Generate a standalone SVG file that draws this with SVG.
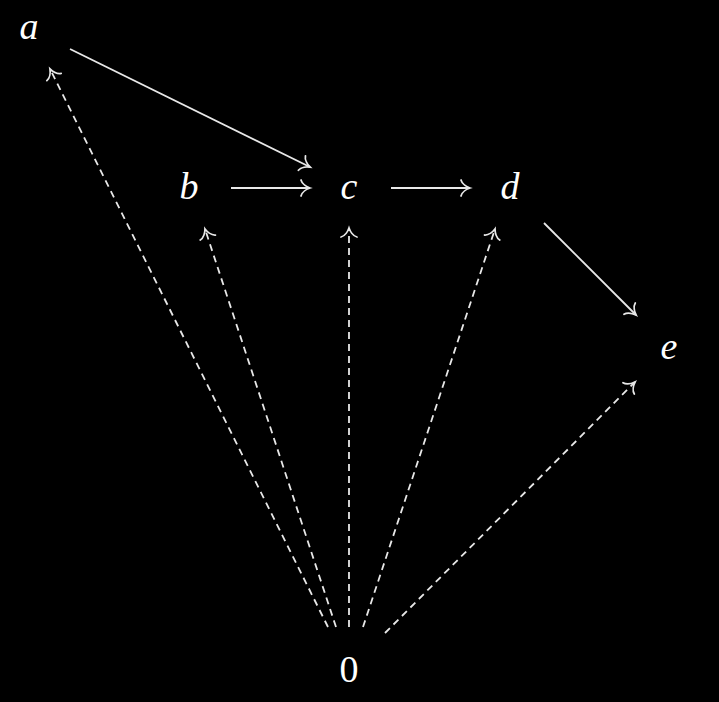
<svg xmlns="http://www.w3.org/2000/svg" width="719" height="702" viewBox="0 0 719 702">
<defs>
<style>
.lbl{font-family:"Liberation Serif","DejaVu Serif",serif;font-style:italic;font-size:38px;fill:#ffffff;text-anchor:middle}
.num{font-family:"Liberation Serif","DejaVu Serif",serif;font-size:38px;fill:#ffffff;text-anchor:middle}
.e{stroke:#e8e8e8;stroke-width:1.8;fill:none;marker-end:url(#to)}
.d{stroke-dasharray:7 5}
</style>
<marker id="to" markerUnits="userSpaceOnUse" viewBox="-12 -10 14 20" refX="0" refY="0" markerWidth="14" markerHeight="20" orient="auto" overflow="visible">
<path d="M -9,-8 C -8,-4 -3,-1 0,0 C -3,1 -8,4 -9,8" fill="none" stroke="#e8e8e8" stroke-width="1.8" stroke-linecap="round"/>
</marker>
</defs>
<rect width="719" height="702" fill="#000000"/>
<g id="connectors">
<line class="e" x1="70" y1="49" x2="310" y2="167"/>
<line class="e" x1="231" y1="188" x2="310" y2="188"/>
<line class="e" x1="391" y1="188" x2="470" y2="188"/>
<line class="e" x1="544" y1="223" x2="636" y2="315"/>
<line class="e d" x1="328" y1="627" x2="50" y2="69"/>
<line class="e d" x1="336" y1="627" x2="205" y2="229"/>
<line class="e d" x1="349" y1="627" x2="349" y2="228"/>
<line class="e d" x1="363" y1="627" x2="495" y2="229"/>
<line class="e d" x1="385" y1="633" x2="635" y2="382"/>
</g>
<g id="node-a"><text class="lbl" x="29" y="39">a</text></g>
<g id="node-b"><text class="lbl" x="189" y="199">b</text></g>
<g id="node-c"><text class="lbl" x="349" y="199">c</text></g>
<g id="node-d"><text class="lbl" x="510" y="199">d</text></g>
<g id="node-e"><text class="lbl" x="669" y="359">e</text></g>
<g id="node-0"><text class="num" x="349" y="682">0</text></g>
</svg>
